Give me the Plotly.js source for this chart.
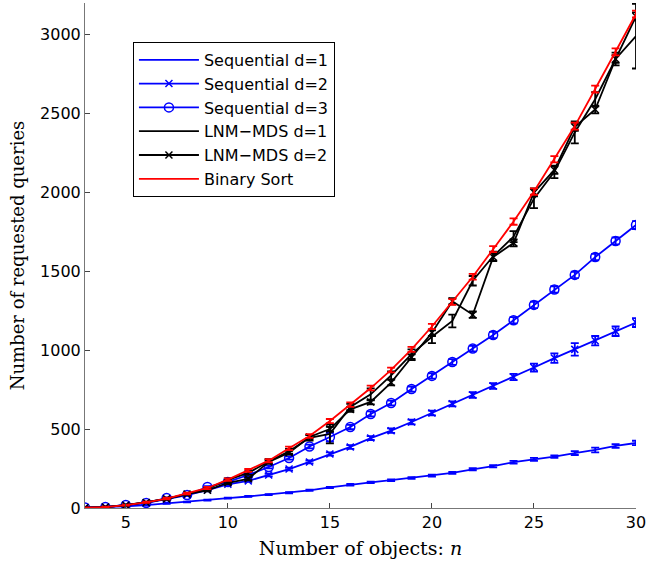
<!DOCTYPE html>
<html>
<head>
<meta charset="utf-8">
<script src="https://cdn.plot.ly/plotly-3.0.1.min.js"></script>
<style>html,body{margin:0;padding:0;background:#fff;}#chart{width:656px;height:562px;}</style>
</head>
<body>
<div id="chart"></div>
<script>
const nObjects = [3,4,5,6,7,8,9,10,11,12,13,14,15,16,17,18,19,20,21,22,23,24,25,26,27,28,29,30];

const seqD1 = [3,6,11,18,28,38,50,62,73,85,97,112,130,147,162,176,190,205,222,245,265,290,308,325,348,368,393,412];
const seqD1Err = [1,1,1,2,2,2,3,3,3,3,4,4,4,5,5,5,6,6,6,7,7,8,9,8,12,15,12,14];

const seqD2 = [3,6,19,32,57,82,114,150,172,209,247,292,342,387,443,490,545,602,660,716,773,830,890,950,1005,1060,1120,1175];
const seqD2Err = [1,2,3,3,4,5,5,6,7,8,8,9,10,12,12,14,15,15,16,18,18,20,25,30,40,30,30,28];

const seqD3 = [3,6,19,32,63,82,133,165,209,260,317,390,450,513,596,665,754,837,925,1010,1096,1190,1287,1385,1477,1590,1692,1793];
const seqD3Err = [2,2,3,3,4,5,6,7,8,9,10,12,30,14,16,15,16,17,18,18,20,20,20,20,20,20,22,25];

const lnmD1 = [2,6,18,36,58,90,122,178,222,295,360,445,470,640,720,840,975,1085,1185,1440,1595,1720,1960,2130,2380,2590,2845,2990];
const lnmD1Err = [1,2,3,4,5,6,8,10,12,14,15,18,60,20,38,25,30,40,40,30,30,35,60,40,70,45,40,205];

const lnmD2 = [2,6,18,35,58,88,112,160,185,292,350,450,500,625,672,795,955,1110,1310,1225,1590,1680,2000,2142,2415,2525,2845,3115];
const lnmD2Err = [1,2,3,4,5,6,7,8,9,10,12,12,15,15,15,18,18,20,20,20,22,22,25,25,25,25,25,25];

const binSort = [2,6,18,36,60,92,127,180,238,300,378,456,551,655,760,875,1005,1150,1305,1465,1640,1815,2005,2210,2420,2655,2890,3130];
const binSortErr = [1,2,3,4,5,6,7,8,9,10,11,12,13,14,15,15,16,17,18,18,19,20,20,20,22,22,22,22];

const seriesNames = ['Sequential d=1','Sequential d=2','Sequential d=3','LNM\u2212MDS d=1','LNM\u2212MDS d=2','Binary Sort'];

function mk(name, y, err, color, marker) {
  const t = {
    x: nObjects, y: y, name: name, type: 'scatter',
    mode: marker ? 'lines+markers' : 'lines',
    line: {color: color, width: 1.8},
    error_y: {type: 'data', array: err, visible: true, color: color, thickness: 1.8, width: 4}
  };
  if (marker) t.marker = marker;
  return t;
}

const data = [
  mk(seriesNames[0], seqD1, seqD1Err, '#0000ff', null),
  mk(seriesNames[1], seqD2, seqD2Err, '#0000ff', {symbol: 'x-thin-open', size: 7, color: '#0000ff', line: {color: '#0000ff', width: 1.5}}),
  mk(seriesNames[2], seqD3, seqD3Err, '#0000ff', {symbol: 'circle-open', size: 9, color: '#0000ff', line: {color: '#0000ff', width: 1.5}}),
  mk(seriesNames[3], lnmD1, lnmD1Err, '#000000', null),
  mk(seriesNames[4], lnmD2, lnmD2Err, '#000000', {symbol: 'x-thin-open', size: 7, color: '#000000', line: {color: '#000000', width: 1.5}}),
  mk(seriesNames[5], binSort, binSortErr, '#ff0000', null)
];

const layout = {
  width: 656, height: 562,
  margin: {l: 85, r: 20, t: 3, b: 54},
  paper_bgcolor: '#ffffff', plot_bgcolor: '#ffffff',
  showlegend: true,
  legend: {
    x: 0.087, y: 0.923, xanchor: 'left', yanchor: 'top',
    bgcolor: '#ffffff', bordercolor: '#000000', borderwidth: 1,
    font: {family: 'DejaVu Sans, sans-serif', size: 16, color: '#000'},
    itemwidth: 60, tracegroupgap: 0
  },
  xaxis: {
    range: [3, 30], tickvals: [5,10,15,20,25,30],
    ticks: 'inside', ticklen: 5, tickcolor: '#444',
    showgrid: false, zeroline: false, showline: true, linecolor: '#777', linewidth: 1, mirror: false,
    tickfont: {family: 'DejaVu Sans, sans-serif', size: 16, color: '#000'},
    title: {text: 'Number of objects: <i>n</i>', font: {family: 'DejaVu Serif, Liberation Serif, serif', size: 19, color: '#000'}, standoff: 10}
  },
  yaxis: {
    range: [0, 3200], tickvals: [0,500,1000,1500,2000,2500,3000],
    ticks: 'inside', ticklen: 5, tickcolor: '#444',
    showgrid: false, zeroline: false, showline: true, linecolor: '#777', linewidth: 1, mirror: false,
    tickfont: {family: 'DejaVu Sans, sans-serif', size: 16, color: '#000'},
    title: {text: 'Number of requested queries', font: {family: 'DejaVu Serif, Liberation Serif, serif', size: 18, color: '#000'}, standoff: 10}
  }
};

Plotly.newPlot('chart', data, layout, {displayModeBar: false, staticPlot: true});
</script>
</body>
</html>
